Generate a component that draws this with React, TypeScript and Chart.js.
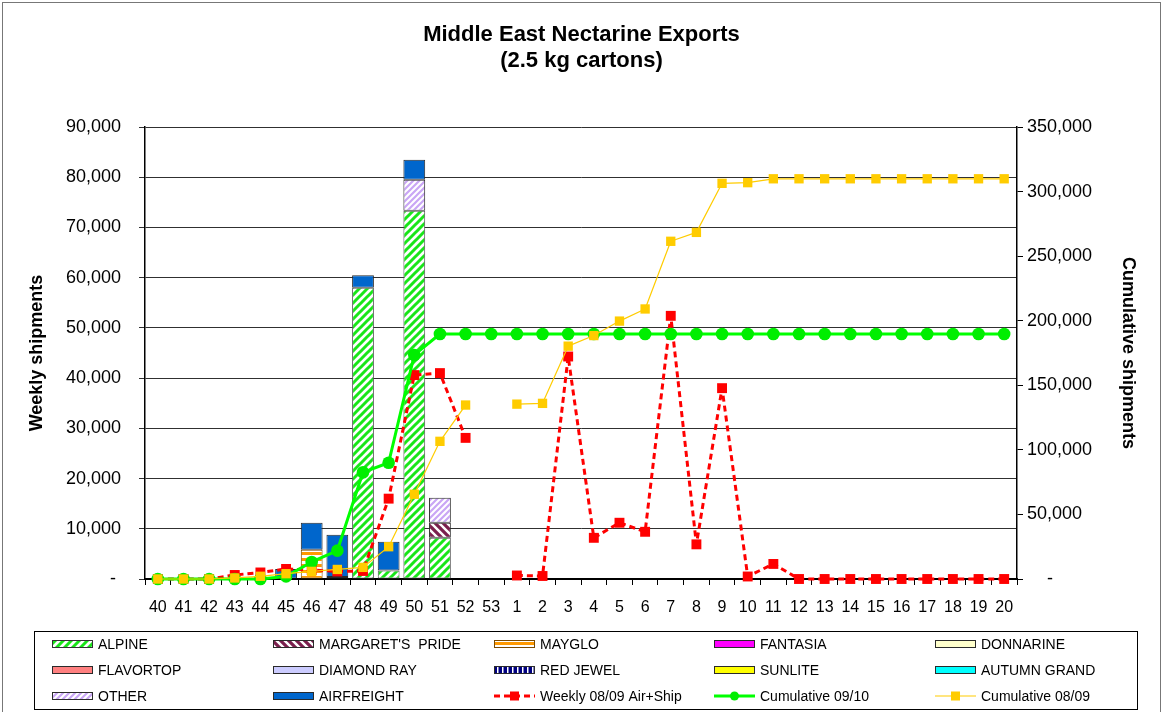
import React, { useEffect, useRef } from "react";
import { Chart, registerables } from "chart.js";

Chart.register(...registerables);

const weeks = [
  "40", "41", "42", "43", "44", "45", "46", "47", "48", "49", "50", "51", "52", "53",
  "1", "2", "3", "4", "5", "6", "7", "8", "9", "10", "11", "12", "13", "14", "15", "16", "17", "18", "19", "20",
];

const N = null;
const alpine = [N, N, N, N, N, N, N, N, 58000, 1700, 73300, 8200, N, N, N, N, N, N, N, N, N, N, N, N, N, N, N, N, N, N, N, N, N, N];
const margaretsPride = [N, N, N, N, N, N, N, N, N, N, N, 3000, N, N, N, N, N, N, N, N, N, N, N, N, N, N, N, N, N, N, N, N, N, N];
const mayglo = [N, N, N, N, N, N, 5800, N, N, N, N, N, N, N, N, N, N, N, N, N, N, N, N, N, N, N, N, N, N, N, N, N, N, N];
const fantasia: (number | null)[] = [];
const donnarine: (number | null)[] = [];
const flavortop: (number | null)[] = [];
const diamondRay = [N, N, N, N, N, N, N, 400, N, N, N, N, N, N, N, N, N, N, N, N, N, N, N, N, N, N, N, N, N, N, N, N, N, N];
const redJewel: (number | null)[] = [];
const sunlite: (number | null)[] = [];
const autumnGrand: (number | null)[] = [];
const other = [N, N, N, N, N, N, N, N, N, N, 6200, 5000, N, N, N, N, N, N, N, N, N, N, N, N, N, N, N, N, N, N, N, N, N, N];
const airfreight = [N, N, N, N, N, 2000, 5400, 8400, 2500, 5700, 4000, N, N, N, N, N, N, N, N, N, N, N, N, N, N, N, N, N, N, N, N, N, N, N];

const weekly0809 = [
  0, 0, 0, 800, 1300, 2000, 1800, 1500, 1600, 16000, 40600, 41000, 28100, null,
  700, 600, 44300, 8200, 11200, 9400, 52400, 6900, 38000, 500, 3000, 0, 0, 0, 0, 0, 0, 0, 0, 0,
];
const cumulative0910 = [
  0, 0, 0, 0, 0, 2000, 13200, 22000, 82600, 90000, 173500, 189700, 189700, 189700,
  189700, 189700, 189700, 189700, 189700, 189700, 189700, 189700, 189700, 189700,
  189700, 189700, 189700, 189700, 189700, 189700, 189700, 189700, 189700, 189700,
];
const cumulative0809 = [
  0, 0, 0, 800, 2100, 4100, 5900, 7400, 9000, 25000, 65600, 106600, 134700, null,
  135400, 136000, 180300, 188500, 199700, 209100, 261500, 268400, 306400, 306900, 309900,
  309900, 309900, 309900, 309900, 309900, 309900, 309900, 309900, 309900,
];

const titleLines = ["Middle East Nectarine Exports", "(2.5 kg cartons)"];
const leftTitle = "Weekly shipments";
const rightTitle = "Cumulative shipments";

const FONT = "'Liberation Sans', Arial, sans-serif";

function makePattern(size: number, draw: (c: CanvasRenderingContext2D, s: number) => void): CanvasPattern | string {
  const cv = document.createElement("canvas");
  cv.width = size;
  cv.height = size;
  const c = cv.getContext("2d");
  if (!c) return "#ccc";
  draw(c, size);
  return c.createPattern(cv, "repeat") || "#ccc";
}

function diag(color: string, size: number, width: number, forward: boolean) {
  return makePattern(size, (c, s) => {
    c.fillStyle = "#fff";
    c.fillRect(0, 0, s, s);
    c.strokeStyle = color;
    c.lineWidth = width;
    c.lineCap = "square";
    c.beginPath();
    for (const k of [-s, 0, s]) {
      if (forward) {
        c.moveTo(k, s);
        c.lineTo(k + s, 0);
      } else {
        c.moveTo(k, 0);
        c.lineTo(k + s, s);
      }
    }
    c.stroke();
  });
}

export default function App() {
  const ref = useRef<HTMLCanvasElement | null>(null);

  useEffect(() => {
    document.body.style.margin = "0";
    const canvas = ref.current;
    if (!canvas) return;
    Chart.defaults.font.family = FONT;
    Chart.defaults.color = "#000";

    const alpinePat = diag("#19e619", 8, 3, true);
    const margPat = diag("#7a1f4d", 8, 3.2, false);
    const otherPat = diag("#c9a6f5", 6, 2.2, true);
    const maygloPat = makePattern(6, (c, s) => {
      c.fillStyle = "#fff";
      c.fillRect(0, 0, s, s);
      c.fillStyle = "#ff9900";
      c.fillRect(0, 0, s, 3);
    });
    const redJewelPat = makePattern(5, (c, s) => {
      c.fillStyle = "#000080";
      c.fillRect(0, 0, s, s);
      c.fillStyle = "#fff";
      c.fillRect(2, 0, 1.5, s);
    });

    const barBorder = "#2a2a2a";
    const bar = (label: string, data: (number | null)[], bg: any, border = barBorder) => ({
      type: "bar" as const,
      label,
      data,
      backgroundColor: bg,
      borderColor: border,
      borderWidth: 1,
      borderSkipped: false,
      yAxisID: "y",
      order: 5,
      barPercentage: 1,
      categoryPercentage: 0.85,
    });

    const line = (label: string, data: (number | null)[], axis: string, color: string, extra: any) => ({
      type: "line",
      label,
      data,
      yAxisID: axis,
      borderColor: color,
      backgroundColor: color,
      pointBackgroundColor: color,
      pointBorderWidth: 0,
      borderJoinStyle: "round",
      tension: 0,
      clip: false,
      ...extra,
    });

    const datasets: any[] = [
      bar("ALPINE", alpine, alpinePat, "#555"),
      bar("MARGARET'S  PRIDE", margaretsPride, margPat),
      bar("MAYGLO", mayglo, maygloPat, "#7a4a00"),
      bar("FANTASIA", fantasia, "#ff00ff"),
      bar("DONNARINE", donnarine, "#ffffcc"),
      bar("FLAVORTOP", flavortop, "#ff8080"),
      bar("DIAMOND RAY", diamondRay, "#ccccff"),
      bar("RED JEWEL", redJewel, redJewelPat),
      bar("SUNLITE", sunlite, "#ffff00"),
      bar("AUTUMN GRAND", autumnGrand, "#00ffff"),
      bar("OTHER", other, otherPat),
      bar("AIRFREIGHT", airfreight, "#0066cc"),
      line("Weekly 08/09 Air+Ship", weekly0809, "y2", "#ff0000", {
        borderWidth: 3,
        borderDash: [6, 4],
        pointStyle: "rect",
        pointRadius: 7,
        order: 2,
      }),
      line("Cumulative 09/10", cumulative0910, "y1", "#00ff00", {
        borderWidth: 3,
        pointStyle: "circle",
        pointRadius: 6.3,
        pointBackgroundColor: "#00ee00",
        order: 1,
      }),
      line("Cumulative 08/09", cumulative0809, "y1", "#ffcc00", {
        borderWidth: 1.2,
        pointStyle: "rect",
        pointRadius: 6.6,
        order: 0,
      }),
    ];

    const frame = {
      id: "frame",
      beforeDraw(chart: any) {
        const { ctx, width, height } = chart;
        ctx.save();
        ctx.fillStyle = "#fff";
        ctx.fillRect(0, 0, width, height);
        ctx.strokeStyle = "#777";
        ctx.lineWidth = 1;
        ctx.strokeRect(2.5, 2.5, width - 5, height + 10);
        ctx.restore();
      },
      afterDraw(chart: any) {
        const { ctx, width } = chart;
        ctx.save();
        ctx.fillStyle = "#000";
        ctx.font = `bold 22px ${FONT}`;
        ctx.textAlign = "center";
        ctx.textBaseline = "middle";
        titleLines.forEach((t, i) => ctx.fillText(t, width / 2, 35 + i * 26));

        // legend
        ctx.strokeStyle = "#000";
        ctx.lineWidth = 1;
        ctx.strokeRect(34.5, 631.5, 1103, 78);
        const cols = [52, 273, 494, 714, 935];
        const rows = [644, 670, 696];
        ctx.font = `14px ${FONT}`;
        ctx.textAlign = "left";
        const ds = chart.data.datasets;
        ds.forEach((d: any, i: number) => {
          const x = cols[i % 5];
          const y = rows[Math.floor(i / 5)];
          if (d.type === "bar") {
            ctx.fillStyle = d.backgroundColor;
            ctx.fillRect(x, y - 4, 41, 8);
            ctx.strokeStyle = d.borderColor === "#555" ? "#333" : d.borderColor;
            ctx.lineWidth = 1;
            ctx.strokeRect(x + 0.5, y - 3.5, 40, 7);
          } else {
            ctx.strokeStyle = d.borderColor;
            ctx.lineWidth = d.borderWidth;
            ctx.setLineDash(d.borderDash || []);
            ctx.beginPath();
            ctx.moveTo(x, y);
            ctx.lineTo(x + 41, y);
            ctx.stroke();
            ctx.setLineDash([]);
            ctx.fillStyle = d.pointBackgroundColor;
            const cx = x + 20.5;
            if (d.pointStyle === "circle") {
              ctx.beginPath();
              ctx.arc(cx, y, 4.5, 0, Math.PI * 2);
              ctx.fill();
            } else {
              ctx.fillRect(cx - 4.5, y - 4.5, 9, 9);
            }
          }
          ctx.fillStyle = "#000";
          ctx.fillText(d.label, x + 46, y + 1);
        });
        ctx.restore();
      },
    };

    const chart = new Chart(canvas, {
      type: "bar",
      data: { labels: weeks, datasets },
      options: {
        animation: false,
        responsive: false,
        devicePixelRatio: 1,
        layout: { padding: { top: 127, bottom: 93, left: 0, right: 0 } },
        plugins: {
          legend: { display: false },
          tooltip: { enabled: false },
          title: { display: false },
        },
        scales: {
          x: {
            stacked: true,
            grid: { display: true, drawOnChartArea: false, drawTicks: true, tickLength: 6, color: "#000", offset: true },
            border: { display: true, color: "#000", width: 2 },
            ticks: { color: "#000", font: { size: 16 }, padding: 13, maxRotation: 0, autoSkip: false },
            afterFit: (s: any) => {
              s.height = 40;
            },
          },
          y: {
            stacked: true,
            position: "left",
            min: 0,
            max: 90000,
            ticks: {
              stepSize: 10000,
              color: "#000",
              font: { size: 18 },
              padding: 18,
              callback: (v: any) => (Number(v) === 0 ? "- " : Number(v).toLocaleString("en-US")),
            },
            grid: { color: "#303030", lineWidth: 1, tickLength: 6, drawTicks: true },
            border: { display: true, color: "#000", width: 1.5 },
            title: {
              display: true,
              text: leftTitle,
              color: "#000",
              font: { size: 18, weight: "bold" },
              padding: { top: 26, bottom: 0 },
            },
            afterFit: (s: any) => {
              s.width = 145;
            },
          },
          y1: {
            position: "right",
            min: 0,
            max: 350000,
            ticks: {
              stepSize: 50000,
              color: "#000",
              font: { size: 18 },
              padding: 4,
              callback: (v: any) => (Number(v) === 0 ? "    -" : Number(v).toLocaleString("en-US")),
            },
            grid: { drawOnChartArea: false, drawTicks: true, tickLength: 6, color: "#000" },
            border: { display: true, color: "#000", width: 1.5 },
            title: {
              display: true,
              text: rightTitle,
              color: "#000",
              font: { size: 18, weight: "bold" },
              padding: { top: 24, bottom: 0 },
            },
            afterFit: (s: any) => {
              s.width = 146;
            },
          },
          y2: { display: false, min: 0, max: 90000 },
        },
      } as any,
      plugins: [frame],
    });

    return () => chart.destroy();
  }, []);

  return (
    <div style={{ width: 1163, height: 712, position: "relative", background: "#fff" }}>
      <canvas ref={ref} width={1163} height={712} style={{ width: 1163, height: 712, display: "block" }} />
    </div>
  );
}
